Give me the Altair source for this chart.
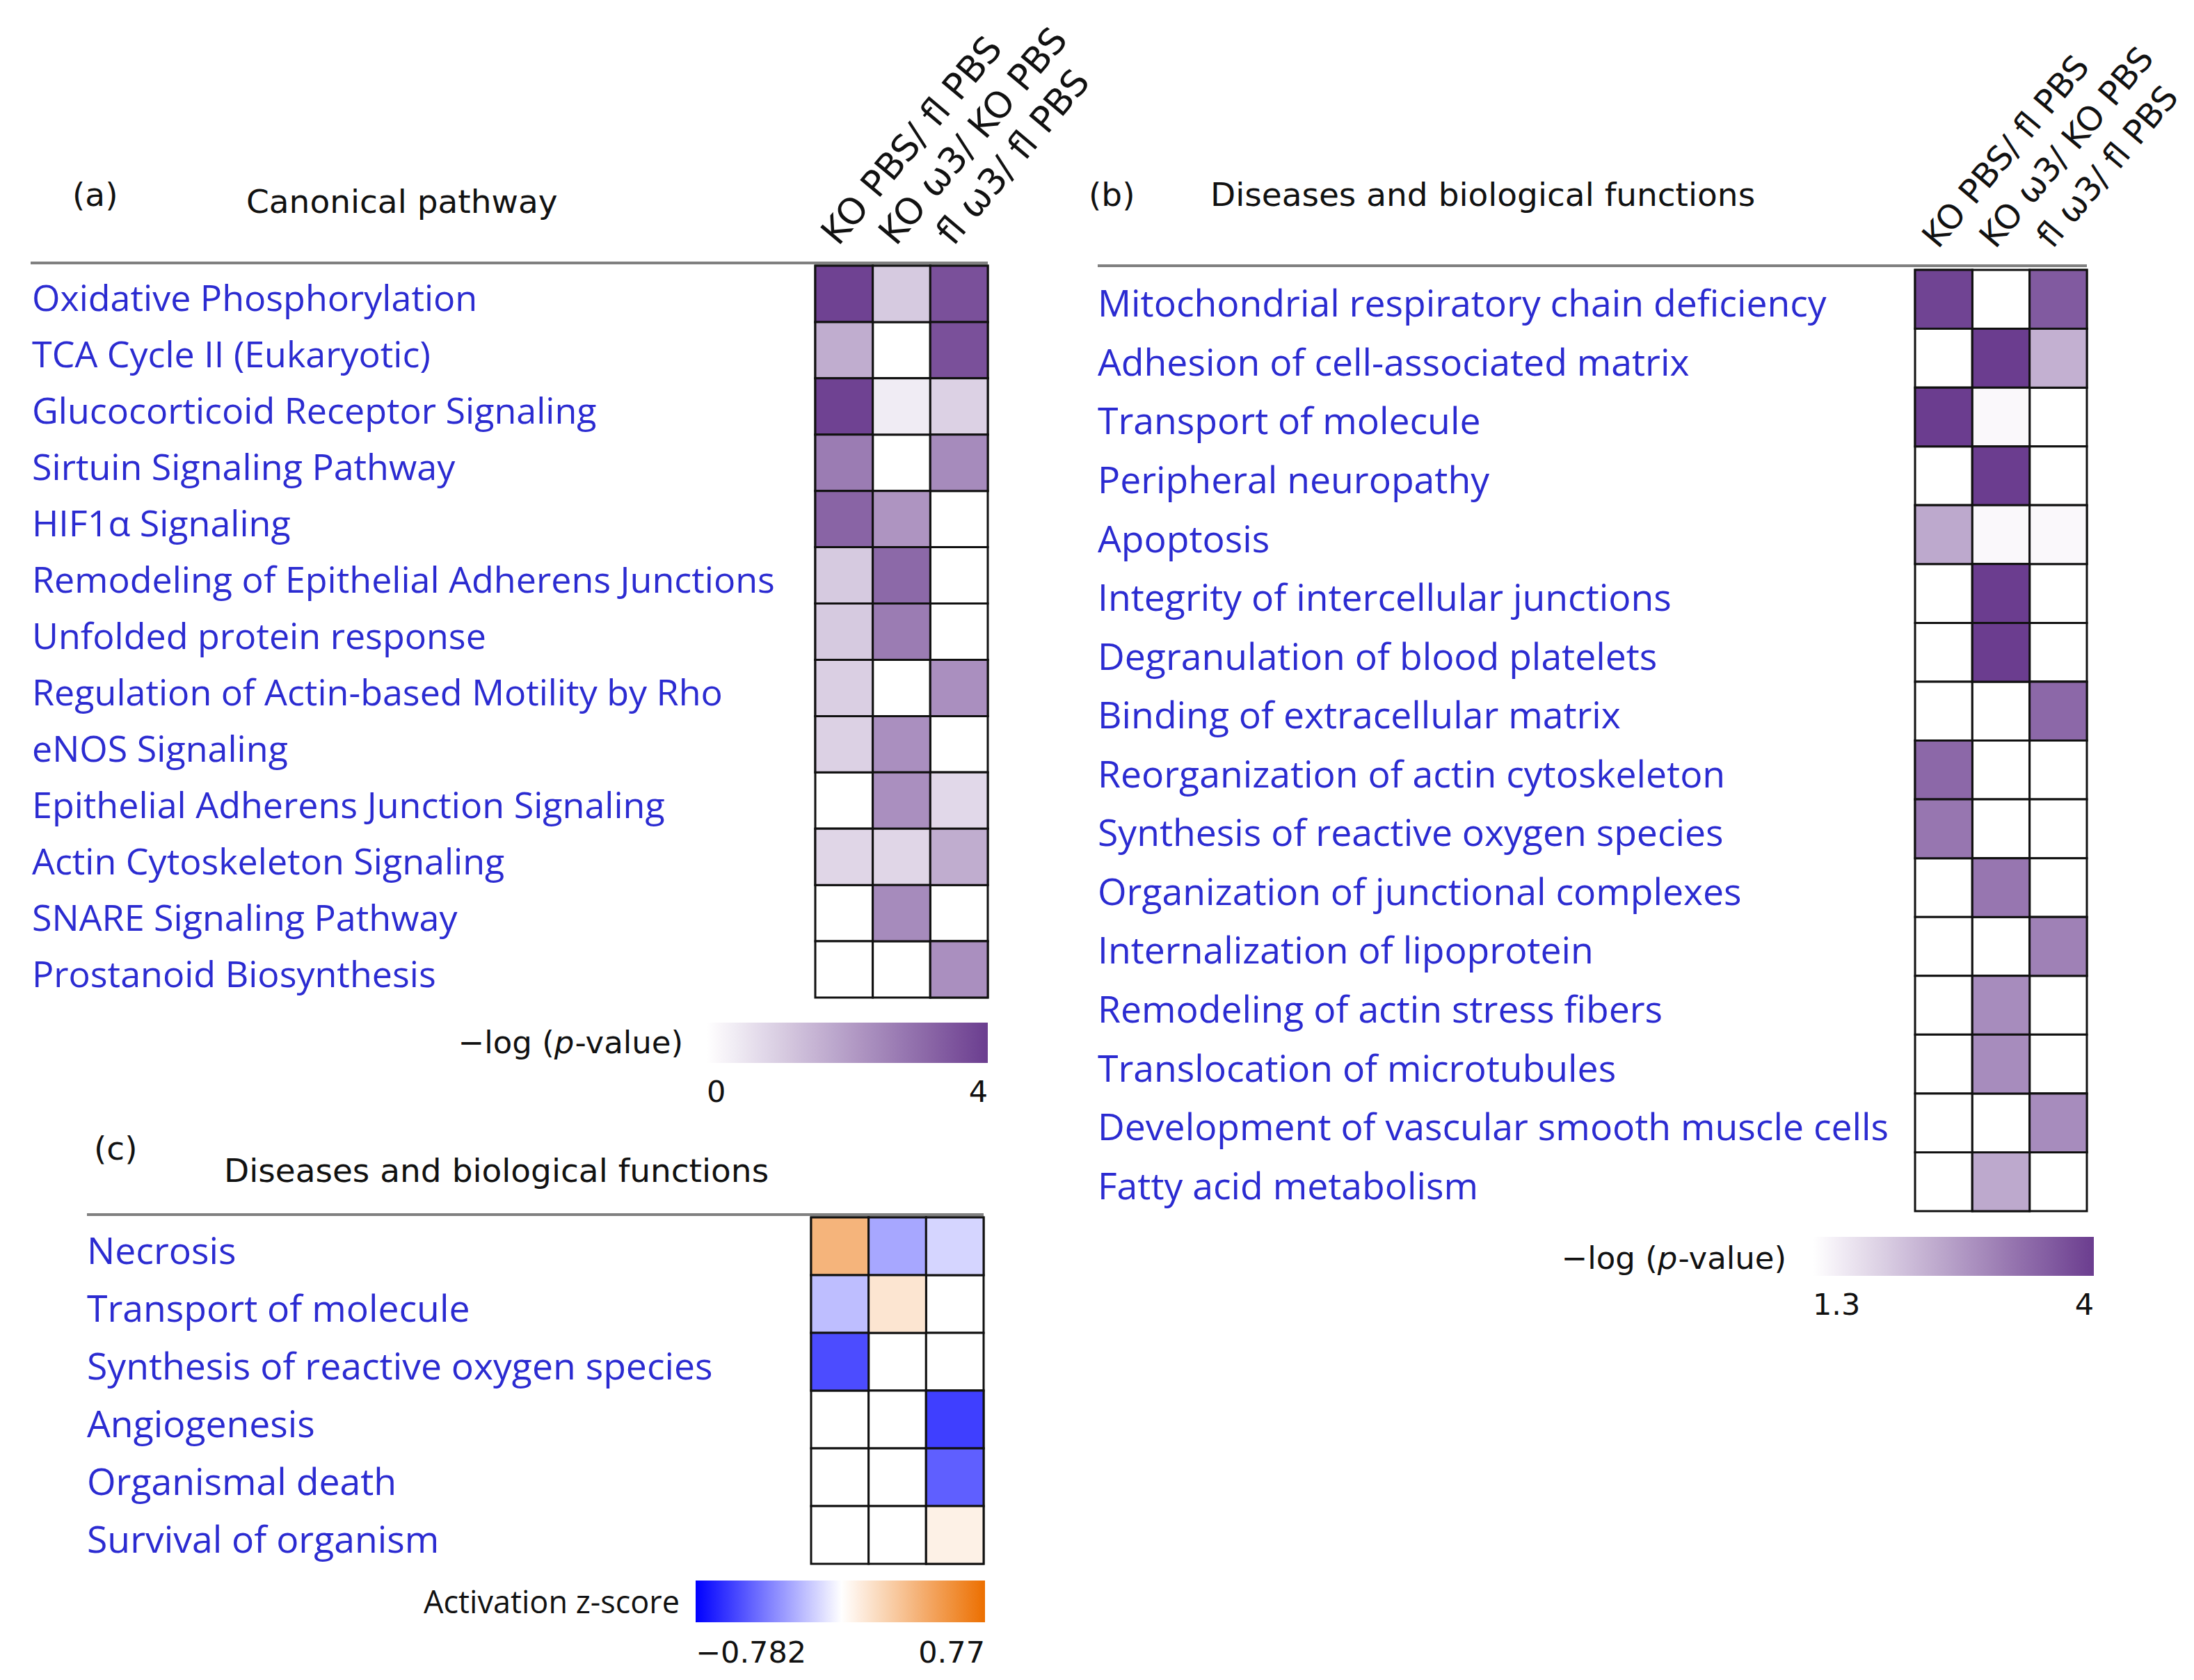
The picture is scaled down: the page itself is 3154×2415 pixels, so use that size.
import altair as alt
import pandas as pd

COLS = ["KO PBS/ fl PBS", "KO ω3/ KO PBS", "fl ω3/ fl PBS"]

# ---------- (a) Canonical pathway : -log(p-value) ----------
A_TERMS = [
    "Oxidative Phosphorylation",
    "TCA Cycle II (Eukaryotic)",
    "Glucocorticoid Receptor Signaling",
    "Sirtuin Signaling Pathway",
    "HIF1α Signaling",
    "Remodeling of Epithelial Adherens Junctions",
    "Unfolded protein response",
    "Regulation of Actin-based Motility by Rho",
    "eNOS Signaling",
    "Epithelial Adherens Junction Signaling",
    "Actin Cytoskeleton Signaling",
    "SNARE Signaling Pathway",
    "Prostanoid Biosynthesis",
]
A_KO_PBS = [3.9, 1.7, 3.9, 2.7, 3.2, 1.1, 1.1, 1.0, 0.95, None, 0.85, None, None]
A_KO_W3 = [1.1, None, 0.4, None, 2.2, 3.1, 2.7, None, 2.3, 2.3, 0.85, 2.4, None]
A_FL_W3 = [3.6, 3.6, 0.95, 2.4, None, None, None, 2.3, None, 0.8, 1.7, None, 2.3]
A_LEGEND_VALUES = [0, 4]

# ---------- (b) Diseases and biological functions : -log(p-value) ----------
B_TERMS = [
    "Mitochondrial respiratory chain deficiency",
    "Adhesion of cell-associated matrix",
    "Transport of molecule",
    "Peripheral neuropathy",
    "Apoptosis",
    "Integrity of intercellular junctions",
    "Degranulation of blood platelets",
    "Binding of extracellular matrix",
    "Reorganization of actin cytoskeleton",
    "Synthesis of reactive oxygen species",
    "Organization of junctional complexes",
    "Internalization of lipoprotein",
    "Remodeling of actin stress fibers",
    "Translocation of microtubules",
    "Development of vascular smooth muscle cells",
    "Fatty acid metabolism",
]
B_KO_PBS = [3.9, None, 4.0, None, 2.5, None, None, None, 3.4, 3.2, None, None, None, None, None, None]
B_KO_W3 = [None, 4.0, 1.4, 4.0, 1.4, 4.0, 4.0, None, None, None, 3.2, None, 2.9, 2.9, None, 2.5]
B_FL_W3 = [3.6, 2.4, None, None, 1.4, None, None, 3.4, None, None, None, 3.05, None, None, 2.9, None]
B_LEGEND_VALUES = [1.3, 4]

# ---------- (c) Diseases and biological functions : activation z-score ----------
C_TERMS = [
    "Necrosis",
    "Transport of molecule",
    "Synthesis of reactive oxygen species",
    "Angiogenesis",
    "Organismal death",
    "Survival of organism",
]
C_KO_PBS = [0.4, -0.2, -0.55, None, None, None]
C_KO_W3 = [-0.27, 0.14, None, None, None, None]
C_FL_W3 = [-0.13, None, None, -0.59, -0.49, 0.075]
C_LEGEND_VALUES = [-0.782, 0.77]

LABEL_BLUE = "#2b2bd1"
TITLE_FONT = "DejaVu Sans"
LABEL_FONT = "Open Sans"


def long_df(terms, series):
    rows = []
    for c, vals in zip(COLS, series):
        for t, v in zip(terms, vals):
            rows.append({"term": t, "col": c, "v": v})
    return pd.DataFrame(rows)


def text_at(txt, x, y, size, font=TITLE_FONT, align="left", color="#111111", style="normal"):
    return alt.Chart(pd.DataFrame({"t": [txt]})).mark_text(
        align=align, baseline="middle", font=font, fontSize=size, color=color, fontStyle=style
    ).encode(x=alt.value(x), y=alt.value(y), text="t:N")


def neglog_title(right, y, size=45):
    w_val = 3.483 * size
    w_p = 0.635 * size
    return [
        text_at("-value)", right, y, size, align="right"),
        text_at("p", right - w_val, y, size, align="right", style="italic"),
        text_at("−log (", right - w_val - w_p, y, size, align="right"),
    ]


def panel(terms, series, xr, yr, label_x, label_size, rule_y, rule_x1, letter, letter_xy,
          title, title_xy, colx_y, col_size, cscale, legend, extra):
    df = long_df(terms, series)
    xs = alt.Scale(domain=COLS, range=xr, paddingInner=0, paddingOuter=0)
    ys = alt.Scale(domain=terms, range=yr, paddingInner=0, paddingOuter=0)
    X = alt.X("col:N", scale=xs, axis=None)
    Y = alt.Y("term:N", scale=ys, axis=None)

    base = alt.Chart(df).mark_rect(fill="white", stroke="#111111", strokeWidth=3).encode(x=X, y=Y)
    colored = alt.Chart(df).transform_filter("isValid(datum.v)").mark_rect(
        stroke="#111111", strokeWidth=3
    ).encode(x=X, y=Y, color=alt.Color("v:Q", scale=cscale, legend=legend))

    rows = alt.Chart(pd.DataFrame({"term": terms})).mark_text(
        align="left", baseline="middle", font=LABEL_FONT, fontSize=label_size, color=LABEL_BLUE, dy=9
    ).encode(y=Y, x=alt.value(label_x), text="term:N")

    rule = alt.Chart(pd.DataFrame({"a": [0]})).mark_rule(color="#808080", strokeWidth=4).encode(
        x=alt.value(rule_x1), x2=alt.value(xr[1]), y=alt.value(rule_y)
    )

    layers = [base, colored, rows, rule,
              text_at(letter, letter_xy[0], letter_xy[1], 47),
              text_at(title, title_xy[0], title_xy[1], 47)] + extra

    if colx_y is not None:
        cols = alt.Chart(pd.DataFrame({"col": COLS})).mark_text(
            align="left", baseline="alphabetic", font=TITLE_FONT, fontSize=col_size, color="#111111", angle=310
        ).encode(x=alt.X("col:N", scale=xs, axis=None, bandPosition=0.4), y=alt.value(colx_y), text="col:N")
        layers.append(cols)
    return alt.layer(*layers)


def leg(x, y, length, thick, values, fmt, offset):
    return alt.Legend(
        orient="none", legendX=x, legendY=y, direction="horizontal", title=None,
        gradientLength=length, gradientThickness=thick, gradientStrokeWidth=0,
        values=values, format=fmt, labelFont=TITLE_FONT, labelFontSize=43,
        labelColor="#111111", labelOffset=offset,
    )


purple_a = alt.Scale(domain=[0, 4], range=["#ffffff", "#6b3d8f"], interpolate="rgb")
purple_b = alt.Scale(domain=[1.3, 4], range=["#ffffff", "#6b3d8f"], interpolate="rgb")
zscale = alt.Scale(domain=[-0.782, 0, 0.77], range=["#0000ff", "#ffffff", "#ec6f00"], interpolate="rgb")

panel_a = panel(
    A_TERMS, [A_KO_PBS, A_KO_W3, A_FL_W3],
    xr=[1164, 1412], yr=[374, 1426], label_x=38, label_size=52, rule_y=370, rule_x1=36,
    letter="(a)", letter_xy=(96, 274), title="Canonical pathway", title_xy=(346, 284),
    colx_y=347, col_size=52, cscale=purple_a,
    legend=leg(1008, 1462, 404, 58, A_LEGEND_VALUES, "d", 22),
    extra=neglog_title(974, 1492),
)

panel_b = panel(
    B_TERMS, [B_KO_PBS, B_KO_W3, B_FL_W3],
    xr=[2745, 2992], yr=[380, 1733], label_x=1570, label_size=53.5, rule_y=374, rule_x1=1570,
    letter="(b)", letter_xy=(1557, 274), title="Diseases and biological functions", title_xy=(1732, 274),
    colx_y=351, col_size=48, cscale=purple_b,
    legend=leg(2598, 1770, 404, 56, B_LEGEND_VALUES, ".1~f", 22),
    extra=neglog_title(2560, 1802),
)

panel_c = panel(
    C_TERMS, [C_KO_PBS, C_KO_W3, C_FL_W3],
    xr=[1158, 1406], yr=[1742, 2240], label_x=117, label_size=53.5, rule_y=1738, rule_x1=117,
    letter="(c)", letter_xy=(127, 1645), title="Diseases and biological functions", title_xy=(314, 1677),
    colx_y=None, col_size=48, cscale=zscale,
    legend=leg(992, 2264, 416, 60, C_LEGEND_VALUES, ".3~f", 24),
    extra=[text_at("Activation z-score", 969, 2297, 45, font=LABEL_FONT, align="right")],
)

chart = alt.layer(panel_a, panel_b, panel_c).resolve_scale(
    x="independent", y="independent", color="independent"
).properties(
    width=3138, height=2396, autosize="none", padding=0, background="white"
).configure_view(strokeWidth=0)

chart.save("out.html", embed_options={"renderer": "svg", "actions": False})
